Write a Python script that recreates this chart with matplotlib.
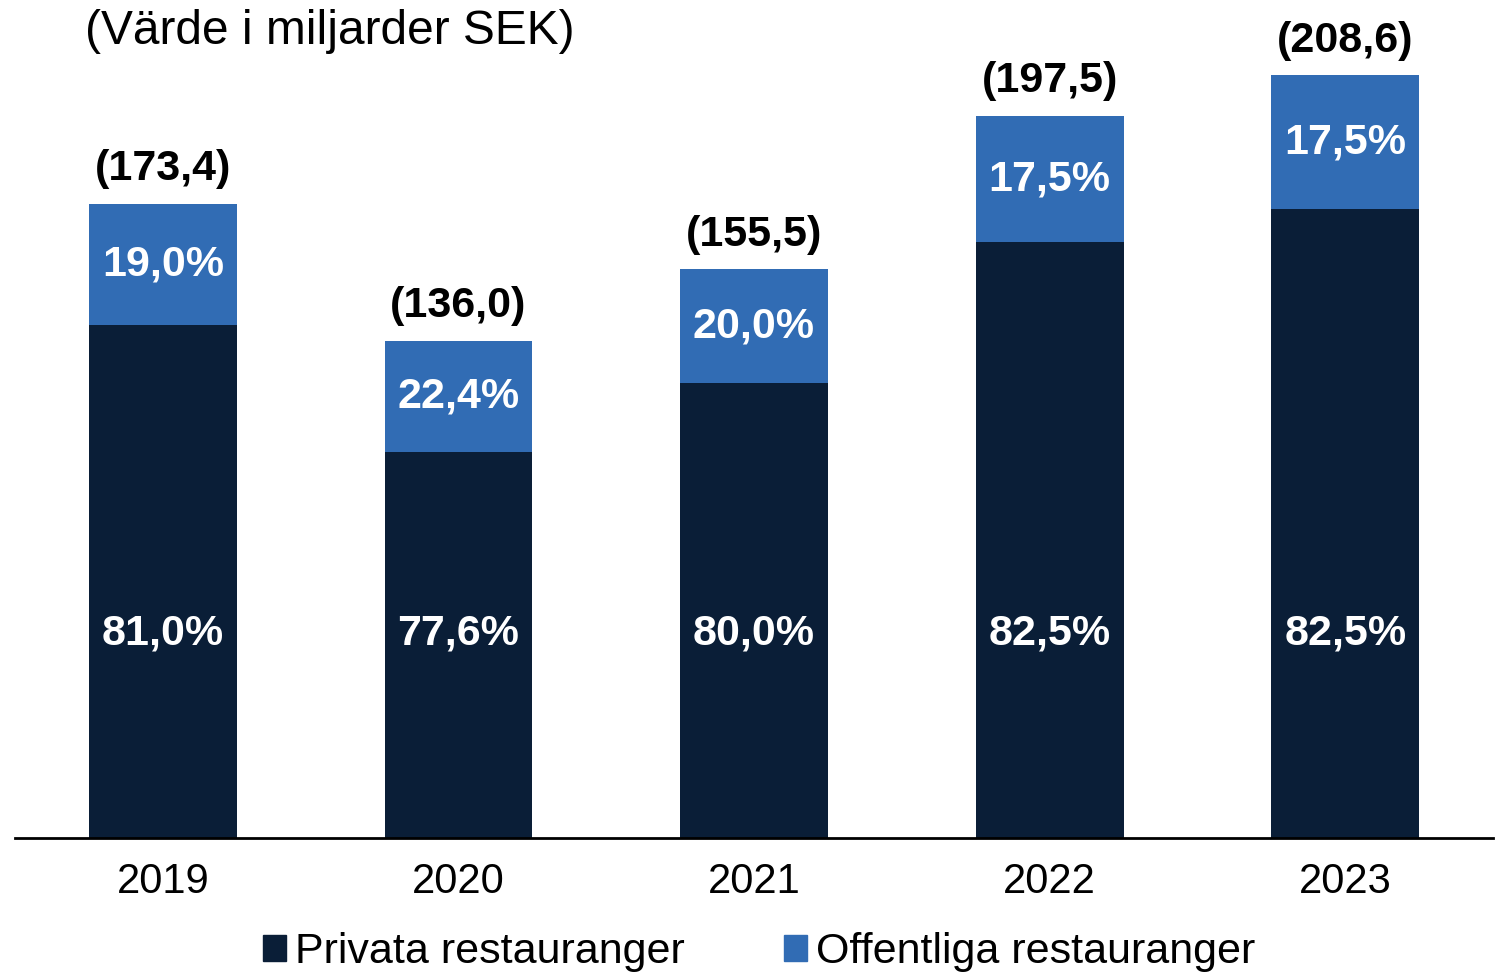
import matplotlib
matplotlib.use("Agg")
import matplotlib.pyplot as plt
from matplotlib.patches import Patch

plt.rcParams['font.family'] = ['Liberation Sans', 'DejaVu Sans']

YEARS = ["2019", "2020", "2021", "2022", "2023"]
TOTALS = [173.4, 136.0, 155.5, 197.5, 208.6]
PRIVATE_PCT = [81.0, 77.6, 80.0, 82.5, 82.5]
PUBLIC_PCT = [19.0, 22.4, 20.0, 17.5, 17.5]
TOTAL_LABELS = ["(173,4)", "(136,0)", "(155,5)", "(197,5)", "(208,6)"]
SERIES = ["Privata restauranger", "Offentliga restauranger"]

DARK = "#0A1E37"
BLUE = "#316CB4"


def fmt_pct(v):
    return f"{v:.1f}%".replace(".", ",")


fig = plt.figure(figsize=(14.99, 9.73), dpi=100)
ax = fig.add_axes([15 / 1499, 135 / 973, 1478 / 1499, 838 / 973])

x = list(range(len(YEARS)))
private = [t * p / 100 for t, p in zip(TOTALS, PRIVATE_PCT)]
public = [t - p for t, p in zip(TOTALS, private)]

ax.bar(x, private, width=0.5, color=DARK)
ax.bar(x, public, width=0.5, bottom=private, color=BLUE)

for i in x:
    ax.text(i, 56, fmt_pct(PRIVATE_PCT[i]), ha="center", va="center",
            color="white", fontsize=31, fontweight="bold")
    ax.text(i, private[i] + public[i] / 2, fmt_pct(PUBLIC_PCT[i]), ha="center",
            va="center", color="white", fontsize=31, fontweight="bold")
    ax.annotate(TOTAL_LABELS[i], (i, TOTALS[i]), xytext=(0, 25),
                textcoords="offset points", ha="center", va="center",
                fontsize=31, fontweight="bold", color="black")

ax.set_xlim(-0.5, 4.5)
ax.set_ylim(0, 838 / 3.656)
ax.set_xticks(x)
ax.set_xticklabels(YEARS, fontsize=30)
ax.tick_params(axis="x", length=0, pad=17)
ax.set_yticks([])
for side in ["top", "right", "left"]:
    ax.spines[side].set_visible(False)
ax.spines["bottom"].set_linewidth(2)

fig.text(85 / 1499, 1 - 32 / 973, "(Värde i miljarder SEK)", fontsize=34.5,
         ha="left", va="center")

handles = [Patch(color=DARK), Patch(color=BLUE)]
fig.legend(handles, SERIES, loc="center", bbox_to_anchor=(759 / 1499, 1 - 952 / 973),
           ncol=2, frameon=False, fontsize=31, handlelength=0.55, handleheight=0.55,
           handletextpad=0.2, columnspacing=2.3, borderpad=0, borderaxespad=0)

fig.savefig("out.png", dpi=100)
